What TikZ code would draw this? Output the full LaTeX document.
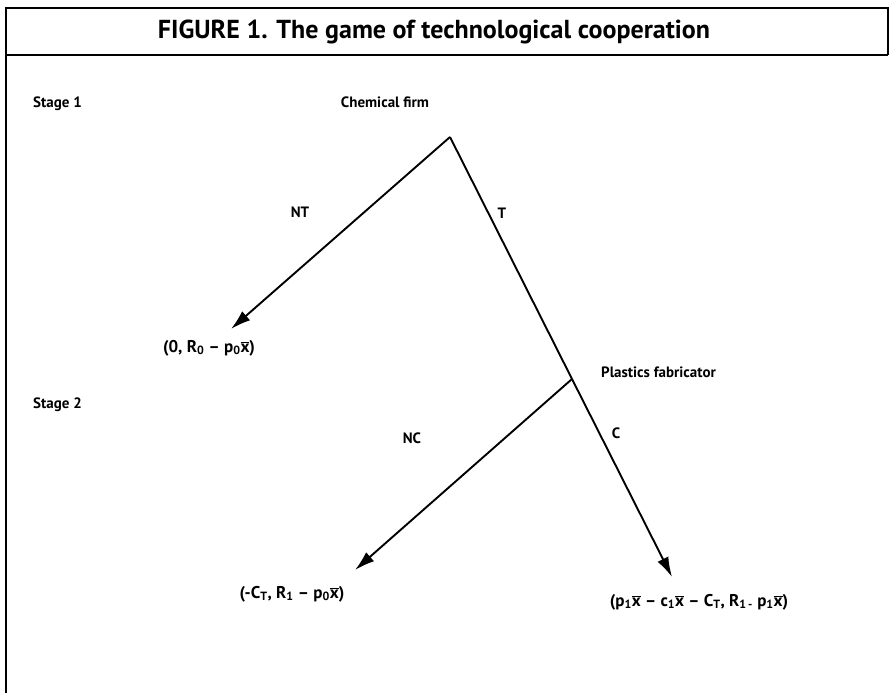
\documentclass[tikz,border=0pt]{standalone}
\usepackage{fontspec}
\setmainfont{PT Sans}
\usetikzlibrary{arrows.meta}
\begin{document}
\begin{tikzpicture}[x=1pt,y=-1pt,
  lbl/.style={font=\bfseries\fontsize{15}{17}\selectfont, inner sep=0pt},
  pay/.style={font=\bfseries\fontsize{17}{19}\selectfont, inner sep=0pt},
  branch/.style={line width=1.9pt},
  arr/.style={branch, -{Latex[length=20pt,width=12pt]}},
  frame/.style={line width=1.6pt}]
\useasboundingbox (0,0) rectangle (891,693);
% frame
\draw[frame] (6,693) -- (6,8) -- (888,8) -- (888,55);
\draw[line width=2.4pt] (6,55) -- (888,55);
\node[font=\bfseries\fontsize{26}{30}\selectfont, inner sep=0pt] (title) at (434,32) {FIGURE 1. The game of technological cooperation};
% labels
\node[lbl, anchor=west] (s1) at (33,104) {Stage 1};
\node[lbl, anchor=west] (s2) at (33,405) {Stage 2};
\node[lbl] (chem) at (385,102) {Chemical firm};
\node[lbl, anchor=west] (plas) at (601,372) {Plastics fabricator};
\node[lbl] (nt) at (300,212) {NT};
\node[lbl] (t) at (502,213) {T};
\node[lbl] (ncl) at (412,438) {NC};
\node[lbl] (cl) at (616,433) {C};
% tree points
\coordinate (root) at (450,137);
\coordinate (pf) at (572,379);
\coordinate (ntend) at (231,329);
\coordinate (ncend) at (355,570);
\coordinate (cend) at (672,577);
\draw[branch] (root) -- (pf);
\draw[arr] (root) -- (ntend);
\draw[arr] (pf) -- (ncend);
\draw[arr] (pf) -- (cend);
% payoffs
\node[pay] (p1) at (209,348) {(0, R\textsubscript{0} -- p\textsubscript{0}$\overline{\mbox{x}}$)};
\node[pay] (p2) at (292,594) {(-C\textsubscript{T}, R\textsubscript{1} -- p\textsubscript{0}$\overline{\mbox{x}}$)};
\node[pay] (p3) at (699,602) {(p\textsubscript{1}$\overline{\mbox{x}}$ -- c\textsubscript{1}$\overline{\mbox{x}}$ -- C\textsubscript{T}, R\textsubscript{1\,-} p\textsubscript{1}$\overline{\mbox{x}}$)};
\end{tikzpicture}
\end{document}
